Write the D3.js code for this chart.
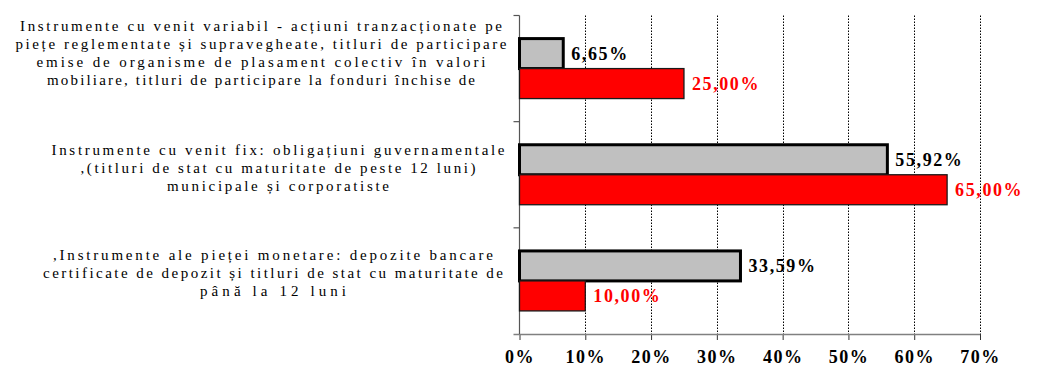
<!DOCTYPE html>
<html>
<head>
<meta charset="utf-8">
<script src="https://cdn.jsdelivr.net/npm/d3@7"></script>
<style>
  html, body { margin: 0; padding: 0; background: #ffffff; }
  svg { display: block; }
</style>
</head>
<body>
<svg id="chart" width="1042" height="367"></svg>
<script>
// Asset categories, top to bottom; each label is pre-wrapped into lines
const categories = ["variabil", "fix", "monetare"];
const categoryLines = [
  ["Instrumente cu venit variabil - acțiuni tranzacționate pe",
   "piețe reglementate și supravegheate, titluri de participare",
   "emise de organisme de plasament colectiv în valori",
   "mobiliare, titluri de participare  la fonduri închise de"],
  ["Instrumente cu venit fix: obligațiuni guvernamentale",
   ",(titluri de stat cu maturitate de peste 12 luni)",
   "municipale și corporatiste"],
  [",Instrumente ale pieței monetare: depozite bancare",
   "certificate de depozit și titluri de stat cu maturitate de",
   "până la 12 luni"]
];
// Portfolio share (grey) and allocation ceiling (red), in percent
const portfolioValues = [6.65, 55.92, 33.59];
const limitValues = [25.00, 65.00, 10.00];
const tickValues = [0, 10, 20, 30, 40, 50, 60, 70];
const tickLabels = ["0%", "10%", "20%", "30%", "40%", "50%", "60%", "70%"];

const series = [
  { key: "portfolio", values: portfolioValues, fill: "#c0c0c0", stroke: "#000000", strokeWidth: 3, text: "#000000" },
  { key: "limit", values: limitValues, fill: "#ff0000", stroke: "#1a1a1a", strokeWidth: 1.3, text: "#ff0000" }
];

const svg = d3.select("#chart");
const plot = { left: 519.5, right: 980, top: 15.5, bottom: 334 };

const x = d3.scaleLinear().domain([0, 70]).range([plot.left, plot.right]);
const y = d3.scaleBand().domain(categories).range([plot.top, plot.bottom]).paddingInner(0).paddingOuter(0);
const ySub = d3.scaleBand().domain(series.map(s => s.key)).range([0, y.bandwidth()]).paddingInner(0).paddingOuter(0.77);

const serif = "'Liberation Serif', 'Times New Roman', Times, serif";
const fmt = v => d3.format(".2f")(v).replace(".", ",") + "%";

// Dotted vertical gridlines
svg.append("g")
  .selectAll("line")
  .data(tickValues.filter(v => v > 0))
  .join("line")
  .attr("x1", d => Math.round(x(d)) + 0.5)
  .attr("x2", d => Math.round(x(d)) + 0.5)
  .attr("y1", plot.top)
  .attr("y2", plot.bottom)
  .attr("stroke", "#000")
  .attr("stroke-width", 1)
  .attr("stroke-dasharray", "1.5,1.5");

// Bottom value axis
const xAxis = d3.axisBottom(x)
  .tickValues(tickValues)
  .tickFormat((d, i) => tickLabels[i])
  .tickSize(6)
  .tickPadding(10);
const gx = svg.append("g")
  .attr("transform", `translate(0,${plot.bottom})`)
  .call(xAxis);
gx.select(".domain").remove();
gx.selectAll(".tick line").attr("stroke", "#333").attr("stroke-width", 1);
gx.selectAll(".tick text")
  .attr("font-family", serif)
  .attr("font-weight", "bold")
  .attr("font-size", 18)
  .style("letter-spacing", "1.5px")
  .attr("fill", "#000");
gx.append("line")
  .attr("x1", plot.left - 6).attr("x2", plot.right)
  .attr("y1", 0.5).attr("y2", 0.5)
  .attr("stroke", "#808080").attr("stroke-width", 1.5);

// Left category axis with ticks at band boundaries
const boundaries = categories.map(c => y(c)).concat([plot.bottom]);
svg.append("line")
  .attr("x1", plot.left).attr("x2", plot.left)
  .attr("y1", plot.top).attr("y2", plot.bottom)
  .attr("stroke", "#555").attr("stroke-width", 1.2);
svg.append("g")
  .selectAll("line")
  .data(boundaries.slice(0, -1))
  .join("line")
  .attr("x1", plot.left - 6).attr("x2", plot.left)
  .attr("y1", d => d).attr("y2", d => d)
  .attr("stroke", "#555").attr("stroke-width", 1.2);

// Category labels: spaced-out serif lines, each stretched to its set width
const lineHeight = 18;
const firstBaseline = [15, 33, 32.5];
const labelLayout = [
  { cx: 261, widths: [482, 491, 449, 428] },
  { cx: 278, widths: [453, 395, 222] },
  { cx: 273, widths: [440, 460, 146] }
];
const labelGroup = svg.append("g")
  .attr("font-family", serif)
  .attr("font-size", 15)
  .attr("fill", "#000")
  .attr("text-anchor", "middle");
categories.forEach((c, i) => {
  categoryLines[i].forEach((line, j) => {
    labelGroup.append("text")
      .attr("x", labelLayout[i].cx)
      .attr("y", y(c) + firstBaseline[i] + j * lineHeight)
      .attr("textLength", labelLayout[i].widths[j])
      .attr("lengthAdjust", "spacing")
      .text(line);
  });
});

// Bars and value labels
series.forEach(s => {
  const g = svg.append("g");
  g.selectAll("rect")
    .data(categories)
    .join("rect")
    .attr("x", x(0))
    .attr("y", c => y(c) + ySub(s.key))
    .attr("width", (c, i) => x(s.values[i]) - x(0))
    .attr("height", ySub.bandwidth())
    .attr("fill", s.fill)
    .attr("stroke", s.stroke)
    .attr("stroke-width", s.strokeWidth);
  g.selectAll("text")
    .data(categories)
    .join("text")
    .attr("x", (c, i) => x(s.values[i]) + 8)
    .attr("y", c => y(c) + ySub(s.key) + ySub.bandwidth() / 2)
    .attr("dy", "0.35em")
    .attr("font-family", serif)
    .attr("font-weight", "bold")
    .attr("font-size", 18)
    .style("letter-spacing", "1.6px")
    .attr("fill", s.text)
    .text((c, i) => fmt(s.values[i]));
});
</script>
</body>
</html>
